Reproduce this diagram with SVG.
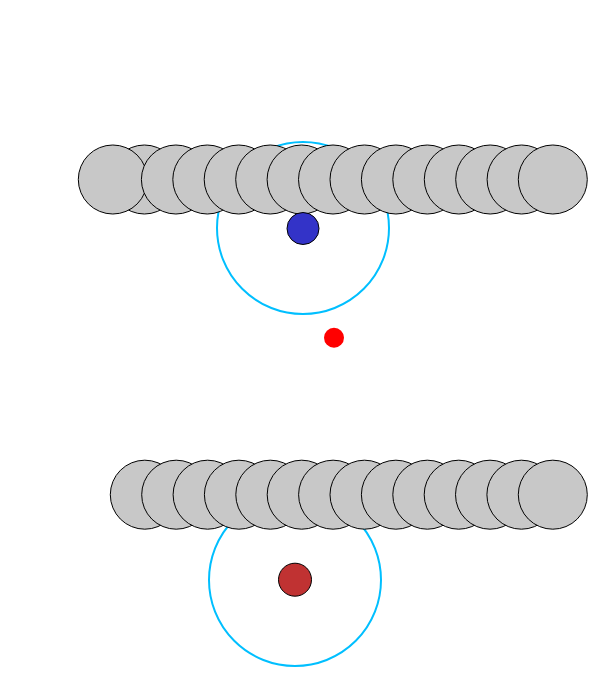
<svg xmlns="http://www.w3.org/2000/svg" width="614" height="689" viewBox="0 0 614 689">
<style>
.ring{fill:none;stroke:#00BFFF;stroke-width:2}
.ball{fill:#C8C8C8;stroke:#000;stroke-width:1}
.blue{fill:#3333C8;stroke:#000;stroke-width:1}
.dred{fill:#C03232;stroke:#000;stroke-width:1}
</style>
<rect width="614" height="689" fill="#fff"/>
<g id="ring-top"><circle class="ring" cx="303" cy="228" r="86"/></g>
<g id="ring-bottom"><circle class="ring" cx="295" cy="580" r="86"/></g>
<g id="row-top">
<circle class="ball" cx="144.4" cy="179.5" r="34.5"/>
<circle class="ball" cx="112.8" cy="179.5" r="34.5"/>
<circle class="ball" cx="175.9" cy="179.5" r="34.5"/>
<circle class="ball" cx="207.3" cy="179.5" r="34.5"/>
<circle class="ball" cx="238.7" cy="179.5" r="34.5"/>
<circle class="ball" cx="270.2" cy="179.5" r="34.5"/>
<circle class="ball" cx="301.6" cy="179.5" r="34.5"/>
<circle class="ball" cx="333.0" cy="179.5" r="34.5"/>
<circle class="ball" cx="364.5" cy="179.5" r="34.5"/>
<circle class="ball" cx="395.9" cy="179.5" r="34.5"/>
<circle class="ball" cx="427.3" cy="179.5" r="34.5"/>
<circle class="ball" cx="458.8" cy="179.5" r="34.5"/>
<circle class="ball" cx="490.2" cy="179.5" r="34.5"/>
<circle class="ball" cx="521.6" cy="179.5" r="34.5"/>
<circle class="ball" cx="552.8" cy="179.5" r="34.5"/>
</g>
<g id="row-bottom">
<circle class="ball" cx="144.8" cy="494.7" r="34.5"/>
<circle class="ball" cx="176.2" cy="494.7" r="34.5"/>
<circle class="ball" cx="207.6" cy="494.7" r="34.5"/>
<circle class="ball" cx="238.9" cy="494.7" r="34.5"/>
<circle class="ball" cx="270.3" cy="494.7" r="34.5"/>
<circle class="ball" cx="301.7" cy="494.7" r="34.5"/>
<circle class="ball" cx="333.1" cy="494.7" r="34.5"/>
<circle class="ball" cx="364.5" cy="494.7" r="34.5"/>
<circle class="ball" cx="395.9" cy="494.7" r="34.5"/>
<circle class="ball" cx="427.3" cy="494.7" r="34.5"/>
<circle class="ball" cx="458.7" cy="494.7" r="34.5"/>
<circle class="ball" cx="490.0" cy="494.7" r="34.5"/>
<circle class="ball" cx="521.4" cy="494.7" r="34.5"/>
<circle class="ball" cx="552.8" cy="494.7" r="34.5"/>
</g>
<g id="blue-dot"><circle class="blue" cx="303" cy="228.5" r="16"/></g>
<g id="red-dot"><circle cx="334" cy="337.7" r="10" fill="#FF0000"/></g>
<g id="darkred-dot"><circle class="dred" cx="295" cy="579.7" r="16.5"/></g>
<g id="connectors"/>
</svg>
